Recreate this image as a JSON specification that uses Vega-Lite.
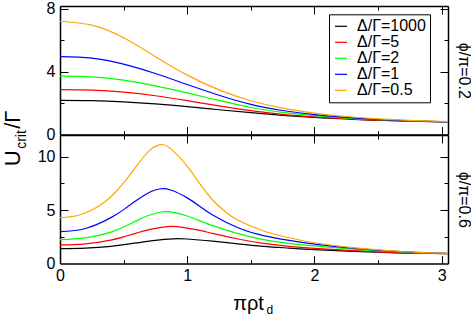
{
  "$schema": "https://vega.github.io/schema/vega-lite/v6.json",
  "padding": {"left": 0, "top": 0, "right": 0, "bottom": 0},
  "background": "white",
  "bounds": "flush",
  "spacing": 0,
  "datasets": {
    "curves": [
      {"p":1,"d":"Δ/Γ=1000","x":0,"y":2.18},{"p":1,"d":"Δ/Γ=1000","x":0.25,"y":2.16},{"p":1,"d":"Δ/Γ=1000","x":0.5,"y":2.08},{"p":1,"d":"Δ/Γ=1000","x":0.75,"y":1.95},{"p":1,"d":"Δ/Γ=1000","x":1.0,"y":1.78},{"p":1,"d":"Δ/Γ=1000","x":1.25,"y":1.58},{"p":1,"d":"Δ/Γ=1000","x":1.5,"y":1.39},{"p":1,"d":"Δ/Γ=1000","x":1.75,"y":1.22},{"p":1,"d":"Δ/Γ=1000","x":2.0,"y":1.09},{"p":1,"d":"Δ/Γ=1000","x":2.25,"y":0.99},{"p":1,"d":"Δ/Γ=1000","x":2.5,"y":0.91},{"p":1,"d":"Δ/Γ=1000","x":2.75,"y":0.85},{"p":1,"d":"Δ/Γ=1000","x":3.05,"y":0.8},
      {"p":1,"d":"Δ/Γ=5","x":0,"y":2.86},{"p":1,"d":"Δ/Γ=5","x":0.25,"y":2.83},{"p":1,"d":"Δ/Γ=5","x":0.5,"y":2.7},{"p":1,"d":"Δ/Γ=5","x":0.75,"y":2.47},{"p":1,"d":"Δ/Γ=5","x":1.0,"y":2.16},{"p":1,"d":"Δ/Γ=5","x":1.25,"y":1.82},{"p":1,"d":"Δ/Γ=5","x":1.5,"y":1.52},{"p":1,"d":"Δ/Γ=5","x":1.75,"y":1.29},{"p":1,"d":"Δ/Γ=5","x":2.0,"y":1.13},{"p":1,"d":"Δ/Γ=5","x":2.25,"y":1.01},{"p":1,"d":"Δ/Γ=5","x":2.5,"y":0.92},{"p":1,"d":"Δ/Γ=5","x":2.75,"y":0.85},{"p":1,"d":"Δ/Γ=5","x":3.05,"y":0.8},
      {"p":1,"d":"Δ/Γ=2","x":0,"y":3.72},{"p":1,"d":"Δ/Γ=2","x":0.25,"y":3.67},{"p":1,"d":"Δ/Γ=2","x":0.5,"y":3.46},{"p":1,"d":"Δ/Γ=2","x":0.75,"y":3.1},{"p":1,"d":"Δ/Γ=2","x":1.0,"y":2.65},{"p":1,"d":"Δ/Γ=2","x":1.25,"y":2.17},{"p":1,"d":"Δ/Γ=2","x":1.5,"y":1.72},{"p":1,"d":"Δ/Γ=2","x":1.75,"y":1.41},{"p":1,"d":"Δ/Γ=2","x":2.0,"y":1.2},{"p":1,"d":"Δ/Γ=2","x":2.25,"y":1.05},{"p":1,"d":"Δ/Γ=2","x":2.5,"y":0.95},{"p":1,"d":"Δ/Γ=2","x":2.75,"y":0.87},{"p":1,"d":"Δ/Γ=2","x":3.05,"y":0.81},
      {"p":1,"d":"Δ/Γ=1","x":0,"y":4.95},{"p":1,"d":"Δ/Γ=1","x":0.25,"y":4.86},{"p":1,"d":"Δ/Γ=1","x":0.5,"y":4.48},{"p":1,"d":"Δ/Γ=1","x":0.75,"y":3.88},{"p":1,"d":"Δ/Γ=1","x":1.0,"y":3.18},{"p":1,"d":"Δ/Γ=1","x":1.25,"y":2.5},{"p":1,"d":"Δ/Γ=1","x":1.5,"y":1.92},{"p":1,"d":"Δ/Γ=1","x":1.75,"y":1.53},{"p":1,"d":"Δ/Γ=1","x":2.0,"y":1.27},{"p":1,"d":"Δ/Γ=1","x":2.25,"y":1.09},{"p":1,"d":"Δ/Γ=1","x":2.5,"y":0.97},{"p":1,"d":"Δ/Γ=1","x":2.75,"y":0.88},{"p":1,"d":"Δ/Γ=1","x":3.05,"y":0.81},
      {"p":1,"d":"Δ/Γ=0.5","x":0,"y":7.2},{"p":1,"d":"Δ/Γ=0.5","x":0.25,"y":6.95},{"p":1,"d":"Δ/Γ=0.5","x":0.5,"y":6.15},{"p":1,"d":"Δ/Γ=0.5","x":0.75,"y":4.95},{"p":1,"d":"Δ/Γ=0.5","x":1.0,"y":3.78},{"p":1,"d":"Δ/Γ=0.5","x":1.25,"y":2.84},{"p":1,"d":"Δ/Γ=0.5","x":1.5,"y":2.15},{"p":1,"d":"Δ/Γ=0.5","x":1.75,"y":1.68},{"p":1,"d":"Δ/Γ=0.5","x":2.0,"y":1.37},{"p":1,"d":"Δ/Γ=0.5","x":2.25,"y":1.15},{"p":1,"d":"Δ/Γ=0.5","x":2.5,"y":1.0},{"p":1,"d":"Δ/Γ=0.5","x":2.75,"y":0.9},{"p":1,"d":"Δ/Γ=0.5","x":3.05,"y":0.82},

      {"p":2,"d":"Δ/Γ=1000","x":0,"y":1.4},{"p":2,"d":"Δ/Γ=1000","x":0.2,"y":1.45},{"p":2,"d":"Δ/Γ=1000","x":0.4,"y":1.62},{"p":2,"d":"Δ/Γ=1000","x":0.6,"y":1.93},{"p":2,"d":"Δ/Γ=1000","x":0.75,"y":2.18},{"p":2,"d":"Δ/Γ=1000","x":0.89,"y":2.32},{"p":2,"d":"Δ/Γ=1000","x":1.0,"y":2.3},{"p":2,"d":"Δ/Γ=1000","x":1.2,"y":2.1},{"p":2,"d":"Δ/Γ=1000","x":1.4,"y":1.85},{"p":2,"d":"Δ/Γ=1000","x":1.6,"y":1.62},{"p":2,"d":"Δ/Γ=1000","x":1.8,"y":1.45},{"p":2,"d":"Δ/Γ=1000","x":2.0,"y":1.3},{"p":2,"d":"Δ/Γ=1000","x":2.3,"y":1.15},{"p":2,"d":"Δ/Γ=1000","x":2.6,"y":1.02},{"p":2,"d":"Δ/Γ=1000","x":2.8,"y":0.97},{"p":2,"d":"Δ/Γ=1000","x":3.05,"y":0.92},
      {"p":2,"d":"Δ/Γ=5","x":0,"y":1.75},{"p":2,"d":"Δ/Γ=5","x":0.2,"y":1.85},{"p":2,"d":"Δ/Γ=5","x":0.4,"y":2.2},{"p":2,"d":"Δ/Γ=5","x":0.5,"y":2.5},{"p":2,"d":"Δ/Γ=5","x":0.6,"y":2.85},{"p":2,"d":"Δ/Γ=5","x":0.7,"y":3.18},{"p":2,"d":"Δ/Γ=5","x":0.84,"y":3.45},{"p":2,"d":"Δ/Γ=5","x":0.95,"y":3.41},{"p":2,"d":"Δ/Γ=5","x":1.1,"y":3.1},{"p":2,"d":"Δ/Γ=5","x":1.2,"y":2.82},{"p":2,"d":"Δ/Γ=5","x":1.4,"y":2.3},{"p":2,"d":"Δ/Γ=5","x":1.6,"y":1.9},{"p":2,"d":"Δ/Γ=5","x":1.8,"y":1.62},{"p":2,"d":"Δ/Γ=5","x":2.0,"y":1.43},{"p":2,"d":"Δ/Γ=5","x":2.3,"y":1.22},{"p":2,"d":"Δ/Γ=5","x":2.6,"y":1.05},{"p":2,"d":"Δ/Γ=5","x":2.8,"y":0.98},{"p":2,"d":"Δ/Γ=5","x":3.05,"y":0.92},
      {"p":2,"d":"Δ/Γ=2","x":0,"y":2.25},{"p":2,"d":"Δ/Γ=2","x":0.2,"y":2.4},{"p":2,"d":"Δ/Γ=2","x":0.4,"y":2.95},{"p":2,"d":"Δ/Γ=2","x":0.5,"y":3.42},{"p":2,"d":"Δ/Γ=2","x":0.6,"y":4.0},{"p":2,"d":"Δ/Γ=2","x":0.7,"y":4.52},{"p":2,"d":"Δ/Γ=2","x":0.81,"y":4.85},{"p":2,"d":"Δ/Γ=2","x":0.9,"y":4.77},{"p":2,"d":"Δ/Γ=2","x":1.0,"y":4.45},{"p":2,"d":"Δ/Γ=2","x":1.1,"y":4.0},{"p":2,"d":"Δ/Γ=2","x":1.2,"y":3.55},{"p":2,"d":"Δ/Γ=2","x":1.4,"y":2.8},{"p":2,"d":"Δ/Γ=2","x":1.6,"y":2.25},{"p":2,"d":"Δ/Γ=2","x":1.8,"y":1.9},{"p":2,"d":"Δ/Γ=2","x":2.0,"y":1.65},{"p":2,"d":"Δ/Γ=2","x":2.3,"y":1.35},{"p":2,"d":"Δ/Γ=2","x":2.6,"y":1.13},{"p":2,"d":"Δ/Γ=2","x":2.8,"y":1.02},{"p":2,"d":"Δ/Γ=2","x":3.05,"y":0.93},
      {"p":2,"d":"Δ/Γ=1","x":0,"y":3.0},{"p":2,"d":"Δ/Γ=1","x":0.2,"y":3.28},{"p":2,"d":"Δ/Γ=1","x":0.4,"y":4.3},{"p":2,"d":"Δ/Γ=1","x":0.5,"y":5.05},{"p":2,"d":"Δ/Γ=1","x":0.6,"y":5.9},{"p":2,"d":"Δ/Γ=1","x":0.7,"y":6.65},{"p":2,"d":"Δ/Γ=1","x":0.78,"y":6.98},{"p":2,"d":"Δ/Γ=1","x":0.87,"y":6.88},{"p":2,"d":"Δ/Γ=1","x":1.0,"y":6.15},{"p":2,"d":"Δ/Γ=1","x":1.1,"y":5.35},{"p":2,"d":"Δ/Γ=1","x":1.2,"y":4.55},{"p":2,"d":"Δ/Γ=1","x":1.4,"y":3.35},{"p":2,"d":"Δ/Γ=1","x":1.6,"y":2.62},{"p":2,"d":"Δ/Γ=1","x":1.8,"y":2.18},{"p":2,"d":"Δ/Γ=1","x":2.0,"y":1.83},{"p":2,"d":"Δ/Γ=1","x":2.3,"y":1.45},{"p":2,"d":"Δ/Γ=1","x":2.6,"y":1.18},{"p":2,"d":"Δ/Γ=1","x":2.8,"y":1.05},{"p":2,"d":"Δ/Γ=1","x":3.05,"y":0.95},
      {"p":2,"d":"Δ/Γ=0.5","x":0,"y":4.3},{"p":2,"d":"Δ/Γ=0.5","x":0.15,"y":4.55},{"p":2,"d":"Δ/Γ=0.5","x":0.3,"y":5.35},{"p":2,"d":"Δ/Γ=0.5","x":0.4,"y":6.25},{"p":2,"d":"Δ/Γ=0.5","x":0.5,"y":7.55},{"p":2,"d":"Δ/Γ=0.5","x":0.6,"y":9.1},{"p":2,"d":"Δ/Γ=0.5","x":0.7,"y":10.55},{"p":2,"d":"Δ/Γ=0.5","x":0.78,"y":11.1},{"p":2,"d":"Δ/Γ=0.5","x":0.86,"y":10.85},{"p":2,"d":"Δ/Γ=0.5","x":1.0,"y":9.1},{"p":2,"d":"Δ/Γ=0.5","x":1.1,"y":7.45},{"p":2,"d":"Δ/Γ=0.5","x":1.2,"y":5.95},{"p":2,"d":"Δ/Γ=0.5","x":1.3,"y":4.85},{"p":2,"d":"Δ/Γ=0.5","x":1.4,"y":4.05},{"p":2,"d":"Δ/Γ=0.5","x":1.6,"y":3.05},{"p":2,"d":"Δ/Γ=0.5","x":1.8,"y":2.42},{"p":2,"d":"Δ/Γ=0.5","x":2.0,"y":1.95},{"p":2,"d":"Δ/Γ=0.5","x":2.3,"y":1.5},{"p":2,"d":"Δ/Γ=0.5","x":2.6,"y":1.2},{"p":2,"d":"Δ/Γ=0.5","x":2.8,"y":1.05},{"p":2,"d":"Δ/Γ=0.5","x":3.05,"y":0.95}
    ]
  },
  "data": {"name": "curves"},
  "vconcat": [
    {
      "width": 388,
      "height": 128.6,
      "transform": [{"filter": "datum.p === 1"}],
      "layer": [
        {
          "mark": {"type": "line", "strokeWidth": 1.2, "interpolate": "natural"},
          "encoding": {
            "x": {"field": "x", "type": "quantitative",
              "scale": {"domain": [0, 3.05], "nice": false, "zero": false},
              "axis": {"orient": "bottom", "values": [0, 1, 2, 3], "labels": false, "ticks": false, "tickSize": 0, "title": null}},
            "y": {"field": "y", "type": "quantitative",
              "scale": {"domain": [0, 8.17], "nice": false},
              "axis": {"orient": "left", "values": [0, 4, 8], "ticks": false, "tickSize": 0,
                "labelPadding": 5, "labelFlush": false, "labelOverlap": false,
                "title": "/Γ", "titleFontSize": 22, "titleAngle": 270, "titleAlign": "left", "titleBaseline": "alphabetic",
                "titleX": -41, "titleY": 122.3}},
            "color": {"field": "d", "type": "nominal",
              "scale": {"domain": ["Δ/Γ=1000", "Δ/Γ=5", "Δ/Γ=2", "Δ/Γ=1", "Δ/Γ=0.5"],
                        "range": ["#000000", "#ff0000", "#00ff00", "#0000ff", "#ffa500"]},
              "legend": {"orient": "none", "legendX": 269, "legendY": 8.3, "title": null,
                "symbolType": "stroke", "symbolSize": 144, "symbolStrokeWidth": 1.2,
                "labelFont": "Liberation Sans", "labelFontSize": 16, "labelColor": "black",
                "labelOffset": 8, "padding": 4, "rowPadding": 0,
                "strokeColor": "black", "fillColor": "white",
                "labelExpr": "datum.label + '   '"}}
          }
        },
        {
          "mark": {"type": "line", "opacity": 0},
          "encoding": {
            "x": {"field": "x", "type": "quantitative",
              "axis": {"orient": "top", "values": [0, 1, 2, 3], "labels": false, "ticks": false, "tickSize": 0,
                "title": "crit", "titleFontSize": 14, "titleAngle": 270, "titleAlign": "left", "titleBaseline": "alphabetic",
                "titleX": -35, "titleY": 142.3}},
            "y": {"field": "y", "type": "quantitative",
              "axis": {"orient": "right", "values": [0, 4, 8], "labels": false, "ticks": false, "tickSize": 0,
                "title": "ϕ/π=0.2", "titleFontSize": 16, "titleAngle": 90, "titleAlign": "center", "titleBaseline": "alphabetic",
                "titleX": 10, "titleY": 64.3}},
            "detail": {"field": "d", "type": "nominal"}
          }
        },
        {
          "mark": {"type": "line", "opacity": 0},
          "encoding": {
            "x": {"field": "x", "type": "quantitative",
              "axis": {"orient": "bottom", "values": [1, 2, 3], "ticks": true, "tickSize": -8, "tickColor": "black", "tickWidth": 1, "labels": false, "domain": false, "title": null}},
            "y": {"field": "y", "type": "quantitative",
              "axis": {"orient": "left", "values": [4, 8], "ticks": true, "tickSize": -8, "tickColor": "black", "tickWidth": 1, "labels": false, "domain": false, "title": null}},
            "detail": {"field": "d", "type": "nominal"}
          }
        },
        {
          "mark": {"type": "line", "opacity": 0},
          "encoding": {
            "x": {"field": "x", "type": "quantitative",
              "axis": {"orient": "top", "values": [1, 2, 3], "ticks": true, "tickSize": -8, "tickColor": "black", "tickWidth": 1, "labels": false, "domain": false, "title": null}},
            "y": {"field": "y", "type": "quantitative",
              "axis": {"orient": "right", "values": [4, 8], "ticks": true, "tickSize": -8, "tickColor": "black", "tickWidth": 1, "labels": false, "domain": false, "title": null}},
            "detail": {"field": "d", "type": "nominal"}
          }
        },
        {
          "mark": {"type": "line", "opacity": 0},
          "encoding": {
            "x": {"field": "x", "type": "quantitative",
              "axis": {"orient": "bottom", "values": [0.5, 1.5, 2.5], "ticks": true, "tickSize": -4, "tickColor": "black", "tickWidth": 1, "labels": false, "domain": false, "title": null}},
            "y": {"field": "y", "type": "quantitative",
              "axis": {"orient": "left", "values": [2, 6], "ticks": true, "tickSize": -4, "tickColor": "black", "tickWidth": 1, "labels": false, "domain": false, "title": null}},
            "detail": {"field": "d", "type": "nominal"}
          }
        },
        {
          "mark": {"type": "line", "opacity": 0},
          "encoding": {
            "x": {"field": "x", "type": "quantitative",
              "axis": {"orient": "top", "values": [0.5, 1.5, 2.5], "ticks": true, "tickSize": -4, "tickColor": "black", "tickWidth": 1, "labels": false, "domain": false, "title": null}},
            "y": {"field": "y", "type": "quantitative",
              "axis": {"orient": "right", "values": [2, 6], "ticks": true, "tickSize": -4, "tickColor": "black", "tickWidth": 1, "labels": false, "domain": false, "title": null}},
            "detail": {"field": "d", "type": "nominal"}
          }
        }
      ],
      "resolve": {"axis": {"x": "independent", "y": "independent"}}
    },
    {
      "width": 388,
      "height": 128.6,
      "transform": [{"filter": "datum.p === 2"}],
      "layer": [
        {
          "mark": {"type": "line", "strokeWidth": 1.2, "interpolate": "natural"},
          "encoding": {
            "x": {"field": "x", "type": "quantitative",
              "scale": {"domain": [0, 3.05], "nice": false, "zero": false},
              "axis": {"orient": "bottom", "values": [0, 1, 2, 3], "format": "d", "ticks": false, "tickSize": 0,
                "labelPadding": 4, "labelFlush": false, "labelOverlap": false,
                "title": "πρt", "titleFontSize": 20, "titleAngle": 0, "titleAlign": "center", "titleBaseline": "alphabetic",
                "titleX": 188, "titleY": 45.7}},
            "y": {"field": "y", "type": "quantitative",
              "scale": {"domain": [0, 12.03], "nice": false},
              "axis": {"orient": "left", "values": [0, 5, 10], "format": "d", "ticks": false, "tickSize": 0,
                "labelPadding": 5, "labelFlush": false, "labelOverlap": false,
                "title": "U", "titleFontSize": 22, "titleAngle": 270, "titleAlign": "left", "titleBaseline": "alphabetic",
                "titleX": -41, "titleY": 30.7}},
            "color": {"field": "d", "type": "nominal",
              "scale": {"domain": ["Δ/Γ=1000", "Δ/Γ=5", "Δ/Γ=2", "Δ/Γ=1", "Δ/Γ=0.5"],
                        "range": ["#000000", "#ff0000", "#00ff00", "#0000ff", "#ffa500"]},
              "legend": null}
          }
        },
        {
          "mark": {"type": "line", "opacity": 0},
          "encoding": {
            "x": {"field": "x", "type": "quantitative",
              "axis": {"orient": "top", "values": [0, 1, 2, 3], "labels": false, "ticks": false, "tickSize": 0,
                "title": "d", "titleFontSize": 12, "titleAngle": 0, "titleAlign": "left", "titleBaseline": "alphabetic",
                "titleX": 206, "titleY": 178.7}},
            "y": {"field": "y", "type": "quantitative",
              "axis": {"orient": "right", "values": [0, 5, 10], "labels": false, "ticks": false, "tickSize": 0,
                "title": "ϕ/π=0.6", "titleFontSize": 16, "titleAngle": 90, "titleAlign": "center", "titleBaseline": "alphabetic",
                "titleX": 10, "titleY": 64.3}},
            "detail": {"field": "d", "type": "nominal"}
          }
        },
        {
          "mark": {"type": "line", "opacity": 0},
          "encoding": {
            "x": {"field": "x", "type": "quantitative",
              "axis": {"orient": "bottom", "values": [1, 2, 3], "ticks": true, "tickSize": -8, "tickColor": "black", "tickWidth": 1, "labels": false, "domain": false, "title": null}},
            "y": {"field": "y", "type": "quantitative",
              "axis": {"orient": "left", "values": [5, 10], "ticks": true, "tickSize": -8, "tickColor": "black", "tickWidth": 1, "labels": false, "domain": false, "title": null}},
            "detail": {"field": "d", "type": "nominal"}
          }
        },
        {
          "mark": {"type": "line", "opacity": 0},
          "encoding": {
            "x": {"field": "x", "type": "quantitative",
              "axis": {"orient": "top", "values": [1, 2, 3], "ticks": true, "tickSize": -8, "tickColor": "black", "tickWidth": 1, "labels": false, "domain": false, "title": null}},
            "y": {"field": "y", "type": "quantitative",
              "axis": {"orient": "right", "values": [5, 10], "ticks": true, "tickSize": -8, "tickColor": "black", "tickWidth": 1, "labels": false, "domain": false, "title": null}},
            "detail": {"field": "d", "type": "nominal"}
          }
        },
        {
          "mark": {"type": "line", "opacity": 0},
          "encoding": {
            "x": {"field": "x", "type": "quantitative",
              "axis": {"orient": "bottom", "values": [0.5, 1.5, 2.5], "ticks": true, "tickSize": -4, "tickColor": "black", "tickWidth": 1, "labels": false, "domain": false, "title": null}},
            "y": {"field": "y", "type": "quantitative",
              "axis": {"orient": "left", "values": [2.5, 7.5], "ticks": true, "tickSize": -4, "tickColor": "black", "tickWidth": 1, "labels": false, "domain": false, "title": null}},
            "detail": {"field": "d", "type": "nominal"}
          }
        },
        {
          "mark": {"type": "line", "opacity": 0},
          "encoding": {
            "x": {"field": "x", "type": "quantitative",
              "axis": {"orient": "top", "values": [0.5, 1.5, 2.5], "ticks": true, "tickSize": -4, "tickColor": "black", "tickWidth": 1, "labels": false, "domain": false, "title": null}},
            "y": {"field": "y", "type": "quantitative",
              "axis": {"orient": "right", "values": [2.5, 7.5], "ticks": true, "tickSize": -4, "tickColor": "black", "tickWidth": 1, "labels": false, "domain": false, "title": null}},
            "detail": {"field": "d", "type": "nominal"}
          }
        }
      ],
      "resolve": {"axis": {"x": "independent", "y": "independent"}}
    }
  ],
  "resolve": {"scale": {"color": "independent"}, "legend": {"color": "independent"}},
  "config": {
    "view": {"stroke": null},
    "font": "Liberation Sans",
    "axis": {
      "grid": false,
      "domainColor": "black", "domainWidth": 1.5,
      "labelFont": "Liberation Sans", "labelFontSize": 16, "labelColor": "black",
      "titleFont": "Liberation Sans", "titleColor": "black", "titleFontWeight": "normal"
    }
  }
}
